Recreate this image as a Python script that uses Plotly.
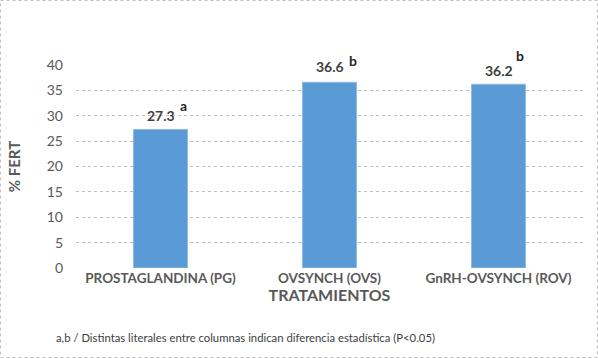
import plotly.graph_objects as go

categories = ["PROSTAGLANDINA (PG)", "OVSYNCH (OVS)", "GnRH-OVSYNCH (ROV)"]
values = [27.3, 36.6, 36.2]
letters = ["a", "b", "b"]
value_shift = [3, 5, 3]
letter_shift = [13, 11, 18]
letter_xshift = [23, 23, 21]
y_ticks = [0, 5, 10, 15, 20, 25, 30, 35, 40]

FONT = "Lato, Open Sans, sans-serif"
GRAY = "#595959"

fig = go.Figure()
fig.add_trace(go.Bar(
    x=categories, y=values,
    marker=dict(color="#5B9BD5", line=dict(color="#8FBCE6", width=1)),
    width=0.32,
))

for c, v, s in zip(categories, values, value_shift):
    fig.add_annotation(x=c, y=v, text=f"<b>{v:.1f}</b>", showarrow=False,
                       yanchor="bottom", yshift=s,
                       font=dict(family=FONT, size=14, color="#404040"))
for c, v, l, s, xs in zip(categories, values, letters, letter_shift, letter_xshift):
    fig.add_annotation(x=c, y=v, text=f"<b>{l}</b>", showarrow=False,
                       yanchor="bottom", yshift=s, xshift=xs,
                       font=dict(family=FONT, size=14, color="#262626"))

W = 598 - 76 - 15
H = 268 - 65
def px(p):
    return (p - 76) / W
def py(p):
    return (268 - p) / H

fig.add_shape(type="rect", xref="paper", yref="paper",
              x0=px(0.5), x1=px(597.5), y0=py(357.5), y1=py(0.5),
              line=dict(color="#BFBFBF", width=1, dash="dot"), layer="below")

fig.add_annotation(xref="paper", yref="paper", x=px(54), y=py(337),
                   xanchor="left", yanchor="middle", showarrow=False,
                   text="a,b / Distintas literales entre columnas indican diferencia estadística (P<0.05)",
                   font=dict(family=FONT, size=11.3, color="#404040"))

fig.update_layout(
    width=598, height=358,
    margin=dict(l=76, r=15, t=65, b=90),
    plot_bgcolor="white", paper_bgcolor="white",
    showlegend=False,
    xaxis=dict(
        tickfont=dict(family=FONT, size=13.5, color=GRAY),
        tickprefix="<b>", ticksuffix="</b>",
        title=dict(text="<b>TRATAMIENTOS</b>", font=dict(family=FONT, size=16, color=GRAY), standoff=3),
        showline=False, ticks="",
    ),
    yaxis=dict(
        range=[0, 40], tickvals=y_ticks,
        tickfont=dict(family=FONT, size=14, color=GRAY),
        tickprefix="<b>", ticksuffix="</b>",
        showgrid=True, gridcolor="#BFBFBF", griddash="dot", gridwidth=1,
        zeroline=False, showline=False, ticks="", ticklabelstandoff=12,
        title=dict(text="<b>% FERT</b>", font=dict(family=FONT, size=15, color=GRAY), standoff=22),
    ),
)

fig.write_html("out.html", config={"displayModeBar": False},
               post_script="document.body.style.margin='0';")
